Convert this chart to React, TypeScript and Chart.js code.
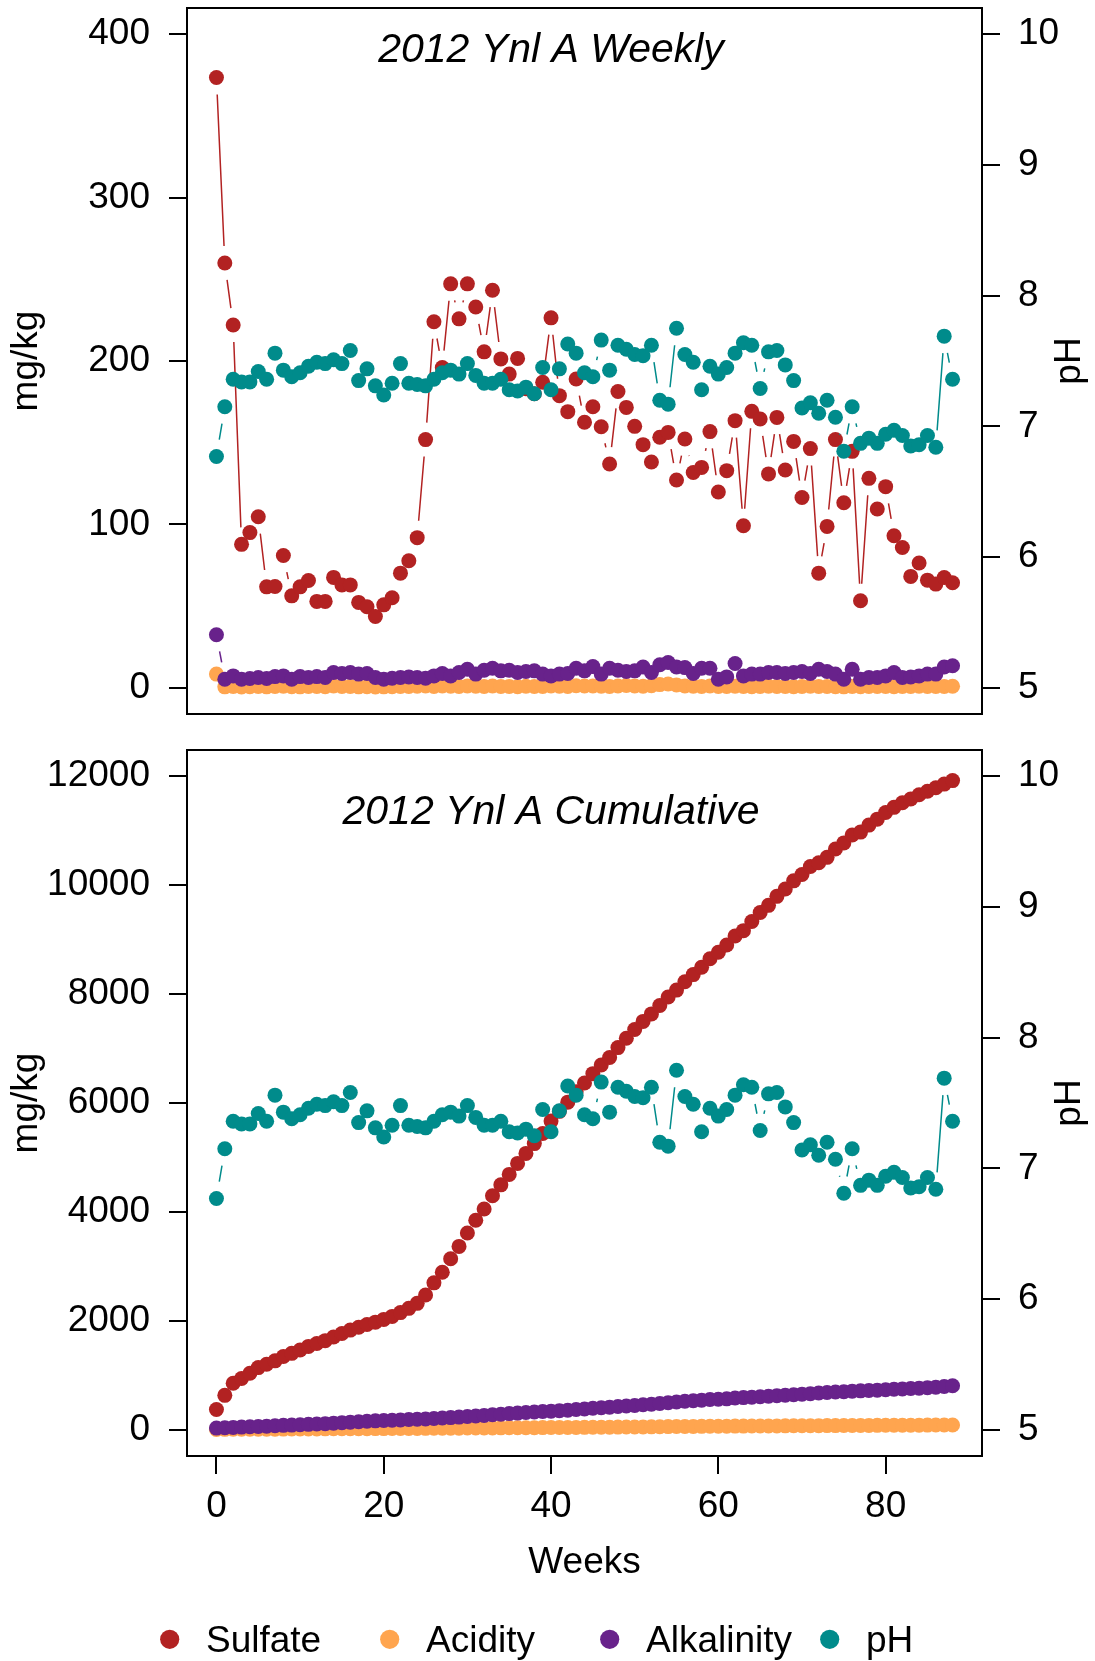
import { useEffect, useRef } from "react";
import { Chart, registerables } from "chart.js";

Chart.register(...registerables);

// ---- data ----
const weeks = [
  0, 1, 2, 3, 4, 5, 6, 7, 8, 9, 10, 11, 12, 13, 14, 15, 16, 17, 18, 19, 20, 21, 22, 23, 24, 25, 26, 27, 28, 29,
  30, 31, 32, 33, 34, 35, 36, 37, 38, 39, 40, 41, 42, 43, 44, 45, 46, 47, 48, 49, 50, 51, 52, 53, 54, 55, 56, 57, 58, 59,
  60, 61, 62, 63, 64, 65, 66, 67, 68, 69, 70, 71, 72, 73, 74, 75, 76, 77, 78, 79, 80, 81, 82, 83, 84, 85, 86, 87, 88,
];

const sulfateWeekly = [
  373.5, 260, 222, 87.8, 95, 104.7, 61.8, 62, 81, 56.3,
  61.8, 65.7, 52.9, 52.9, 67.6, 63, 63, 52.3, 49.6, 43.7,
  50.8, 55.1, 70.2, 77.8, 91.9, 151.9, 224, 196, 247.2, 225.8,
  247.2, 233, 205.6, 243.3, 201.3, 192, 201.6, 183, 180, 187,
  226.4, 178.8, 169, 189, 162.5, 172, 159.8, 137, 181.3, 171.6,
  160, 148.8, 138.2, 153.3, 156.3, 127.2, 152.3, 131.8, 134.9, 156.8,
  119.8, 132.9, 163.5, 99.2, 169.2, 164.5, 130.9, 165.5, 133.3, 150.8,
  116.5, 146.4, 70.2, 98.8, 151.9, 113.3, 144.7, 53.3, 128.2, 109.4,
  123.1, 93.1, 85.9, 68.2, 76.4, 65.9, 63.5, 67.5, 64.3,
];

const acidityWeekly = [
  8.4,
  0.6, 0.8, 0.5, 0.7, 0.9, 0.6, 0.8, 1.0, 0.7, 0.6, 0.9, 0.8, 0.7, 1.1, 0.9, 0.8, 0.6, 0.7, 0.5, 0.6,
  0.7, 0.9, 0.8, 1.0, 1.2, 0.9, 1.1, 1.0, 0.8, 1.2, 1.0, 0.9, 1.1, 0.8, 0.9, 0.7, 1.0, 0.8, 0.9, 1.1,
  1.0, 0.9, 1.3, 1.1, 1.2, 1.0, 0.9, 1.1, 1.4, 1.2, 1.0, 1.3, 2.0, 2.4, 1.8, 1.2, 1.0, 0.9, 1.1, 0.8,
  0.9, 1.0, 0.8, 0.7, 0.9, 1.0, 0.8, 0.9, 0.7, 0.8, 1.0, 0.9, 0.8, 0.7, 0.6, 0.9, 0.7, 0.8, 0.9, 0.8,
  0.7, 0.9, 0.8, 1.0, 0.9, 0.8, 0.9, 1.0,
];

const alkalinityWeekly = [
  32.5,
  5.3, 7.3, 5.3, 5.7, 6.3, 5.7, 6.9, 7.3, 5.3, 6.9, 6.3, 6.9, 6.3,
  9.4, 8.8, 9.4, 8.4, 8.8, 6.3, 5.3, 5.9, 6.3, 6.7, 6.3, 5.9, 7.3, 8.8, 7.3,
  9.4, 11.4, 8.4, 10.8, 12, 10.4, 10.8, 9.4, 10, 10.4, 8.4, 7.3, 8.4, 8.8, 12, 10.4, 13,
  8.4, 12, 10.8, 10, 10.4, 12.8, 9.4, 14.1, 15.5, 12.8, 12.4, 8.8, 12, 12, 5.3,
  6.7, 14.9, 7.3, 8.4, 8.4, 9.4, 9.4, 8.8, 9.4, 10, 8.8, 11.4, 10, 8.4, 5.3,
  11.4, 5.3, 6.3, 6.3, 7.3, 9.4, 6.3, 6.7, 7.3, 8.4, 8.4, 12.8, 13.5,
];

const phWeekly = [
  6.77, 7.15, 7.36, 7.34, 7.34, 7.42, 7.36, 7.56, 7.43, 7.38,
  7.41, 7.46, 7.49, 7.48, 7.51, 7.48, 7.58, 7.35, 7.44, 7.31,
  7.24, 7.33, 7.48, 7.33, 7.32, 7.31, 7.36, 7.41, 7.43, 7.40,
  7.48, 7.39, 7.33, 7.33, 7.36, 7.28, 7.27, 7.30, 7.25, 7.45,
  7.28, 7.44, 7.63, 7.56, 7.41, 7.38, 7.66, 7.43, 7.62, 7.59,
  7.55, 7.54, 7.62, 7.20, 7.17, 7.75, 7.55, 7.49, 7.28, 7.46,
  7.40, 7.45, 7.56, 7.64, 7.62, 7.29, 7.57, 7.58, 7.47, 7.35,
  7.14, 7.18, 7.10, 7.20, 7.07, 6.81, 7.15, 6.87, 6.91, 6.87,
  6.94, 6.97, 6.93, 6.85, 6.86, 6.93, 6.84, 7.69, 7.36,
];

const weeklyTicks = [0, 100, 200, 300, 400];
const cumulativeTicks = [0, 2000, 4000, 6000, 8000, 10000, 12000];
const phTicks = [5, 6, 7, 8, 9, 10];
const weekTicks = [0, 20, 40, 60, 80];

const seriesNames = ["Sulfate", "Acidity", "Alkalinity", "pH"];
const seriesColors = ["#B22222", "#FFA54F", "#68228B", "#008B8B"];

// ---- helpers ----
const FONT = "'Liberation Sans', Arial, Helvetica, sans-serif";
const W = 1095;
const TOP_H = 735;
const BOTTOM_H = 1661 - TOP_H;
const PLOT_LEFT = 187;
const PLOT_RIGHT = 982;
const GAP = 17;

const runningTotal = (values: number[]) => {
  let acc = 0;
  return values.map((v) => (acc += v));
};

const toPoints = (values: number[]) => weeks.map((w, i) => ({ x: w, y: values[i] }));

// Lines of R-style "b" plots: segments between points, broken around each point.
const gapLines = {
  id: "gapLines",
  beforeDatasetDraw(chart: any, args: any) {
    const ds = chart.data.datasets[args.index];
    const pts = args.meta.data;
    const ctx = chart.ctx;
    ctx.save();
    ctx.strokeStyle = ds.borderColor;
    ctx.lineWidth = 1.5;
    ctx.beginPath();
    for (let k = 0; k < pts.length - 1; k++) {
      const a = pts[k];
      const b = pts[k + 1];
      const dx = b.x - a.x;
      const dy = b.y - a.y;
      const d = Math.hypot(dx, dy);
      if (d <= 2 * GAP) continue;
      const ux = dx / d;
      const uy = dy / d;
      ctx.moveTo(a.x + ux * GAP, a.y + uy * GAP);
      ctx.lineTo(b.x - ux * GAP, b.y - uy * GAP);
    }
    ctx.stroke();
    ctx.restore();
  },
};

// Frame, panel title, axis titles, and (for the lower panel) x title and legend.
const panelDecor = {
  id: "panelDecor",
  afterDraw(chart: any, _args: any, opts: any) {
    const { ctx, chartArea } = chart;
    const { left, right, top, bottom } = chartArea;
    ctx.save();
    ctx.strokeStyle = "#000";
    ctx.lineWidth = 2;
    ctx.strokeRect(left, top, right - left, bottom - top);

    ctx.fillStyle = "#000";
    ctx.font = `italic 41px ${FONT}`;
    ctx.textAlign = "center";
    ctx.textBaseline = "alphabetic";
    ctx.fillText(opts.title, chart.scales.x.getPixelForValue(40), opts.titleBaseline);

    const midY = (top + bottom) / 2;
    ctx.font = `37px ${FONT}`;
    ctx.save();
    ctx.translate(37, midY);
    ctx.rotate(-Math.PI / 2);
    ctx.fillText("mg/kg", 0, 0);
    ctx.restore();
    ctx.save();
    ctx.translate(1080, midY);
    ctx.rotate(-Math.PI / 2);
    ctx.fillText("pH", 0, 0);
    ctx.restore();

    if (opts.showBottom) {
      ctx.textAlign = "center";
      ctx.fillText("Weeks", (left + right) / 2, opts.xTitleBaseline);
      ctx.textAlign = "left";
      seriesNames.forEach((name, i) => {
        const x0 = 169.7 + i * 220;
        ctx.fillStyle = seriesColors[i];
        ctx.beginPath();
        ctx.arc(x0, opts.legendY, 9.6, 0, Math.PI * 2);
        ctx.fill();
        ctx.fillStyle = "#000";
        ctx.fillText(name, x0 + 36.3, opts.legendY + 12.4);
      });
    }
    ctx.restore();
  },
};

const fixedTicks = (values: number[]) => (scale: any) => {
  scale.ticks = values.map((value) => ({ value }));
};

const noPadding = (scale: any) => {
  scale.paddingTop = 0;
  scale.paddingBottom = 0;
  scale.paddingLeft = 0;
  scale.paddingRight = 0;
};

const tickFont = { family: FONT, size: 37 };

function makeConfig(panel: "weekly" | "cumulative") {
  const weekly = panel === "weekly";
  const series = weekly
    ? [sulfateWeekly, acidityWeekly, alkalinityWeekly]
    : [runningTotal(sulfateWeekly), runningTotal(acidityWeekly), runningTotal(alkalinityWeekly)];
  const leftTicks = weekly ? weeklyTicks : cumulativeTicks;
  const leftMax = leftTicks[leftTicks.length - 1];
  const pad = leftMax * 0.04;
  const canvasH = weekly ? TOP_H : BOTTOM_H;
  const areaTop = weekly ? 8 : 15;
  const areaBottom = weekly ? 714 : 721;

  const datasets: any[] = series.map((vals, i) => ({
    label: seriesNames[i],
    data: toPoints(vals),
    yAxisID: "y",
    showLine: false,
    borderColor: seriesColors[i],
    backgroundColor: seriesColors[i],
    pointBackgroundColor: seriesColors[i],
    pointRadius: 7.5,
    pointBorderWidth: 0,
    order: 3 - i,
  }));
  datasets.push({
    label: seriesNames[3],
    data: toPoints(phWeekly),
    yAxisID: "ph",
    showLine: false,
    borderColor: seriesColors[3],
    backgroundColor: seriesColors[3],
    pointBackgroundColor: seriesColors[3],
    pointRadius: 7.5,
    pointBorderWidth: 0,
    order: 0,
  });

  const tickGrid = {
    display: true,
    drawOnChartArea: false,
    drawTicks: true,
    tickLength: 18,
    color: "#000",
    lineWidth: 2,
  };

  return {
    type: "line",
    data: { datasets },
    plugins: [gapLines, panelDecor],
    options: {
      animation: false,
      responsive: false,
      devicePixelRatio: 1,
      events: [],
      layout: {
        autoPadding: false,
        padding: { top: areaTop, bottom: weekly ? canvasH - areaBottom : 0, left: 0, right: 0 },
      },
      plugins: {
        legend: { display: false },
        tooltip: { enabled: false },
        panelDecor: {
          title: weekly ? "2012 Ynl A Weekly" : "2012 Ynl A Cumulative",
          titleBaseline: weekly ? 62 : 89,
          showBottom: !weekly,
          xTitleBaseline: 1573.3 - TOP_H,
          legendY: 1639.3 - TOP_H,
        },
      },
      scales: {
        x: {
          type: "linear",
          display: !weekly,
          min: -3.52,
          max: 91.52,
          afterBuildTicks: fixedTicks(weekTicks),
          afterFit: (scale: any) => {
            scale.height = weekly ? 0 : canvasH - areaBottom;
            noPadding(scale);
          },
          grid: tickGrid,
          border: { display: false },
          ticks: {
            font: tickFont,
            color: "#000",
            padding: 11,
            autoSkip: false,
            maxRotation: 0,
            minRotation: 0,
            callback: (v: any) => String(v),
          },
        },
        y: {
          type: "linear",
          position: "left",
          min: -pad,
          max: leftMax + pad,
          afterBuildTicks: fixedTicks(leftTicks),
          afterFit: (scale: any) => {
            scale.width = PLOT_LEFT;
            noPadding(scale);
          },
          grid: tickGrid,
          border: { display: false },
          ticks: {
            font: tickFont,
            color: "#000",
            padding: 19,
            autoSkip: false,
            callback: (v: any) => String(v),
          },
        },
        ph: {
          type: "linear",
          position: "right",
          min: 4.8,
          max: 10.2,
          afterBuildTicks: fixedTicks(phTicks),
          afterFit: (scale: any) => {
            scale.width = W - PLOT_RIGHT;
            noPadding(scale);
          },
          grid: tickGrid,
          border: { display: false },
          ticks: {
            font: tickFont,
            color: "#000",
            padding: 18,
            autoSkip: false,
            callback: (v: any) => String(v),
          },
        },
      },
    },
  };
}

function Panel({ panel, top, height }: { panel: "weekly" | "cumulative"; top: number; height: number }) {
  const ref = useRef<HTMLCanvasElement | null>(null);
  useEffect(() => {
    if (!ref.current) return;
    const chart = new Chart(ref.current, makeConfig(panel) as any);
    return () => chart.destroy();
  }, [panel]);
  return (
    <canvas
      ref={ref}
      width={W}
      height={height}
      style={{ position: "absolute", left: 0, top, width: W, height }}
    />
  );
}

export default function App() {
  return (
    <div style={{ position: "absolute", left: 0, top: 0, width: W, height: 1661, background: "#fff" }}>
      <Panel panel="weekly" top={0} height={TOP_H} />
      <Panel panel="cumulative" top={TOP_H} height={BOTTOM_H} />
    </div>
  );
}
